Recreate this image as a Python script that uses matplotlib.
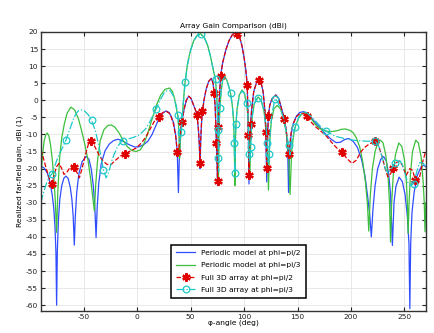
import numpy as np
import matplotlib
matplotlib.use("Agg")
import matplotlib.pyplot as plt

# (angle deg, gain dBi)
periodic_pi2 = [(-90,-19.3),(-87,-19.8),(-84,-21.3),(-81.5,-24),(-79.5,-27.5),(-78,-31.5),(-76.8,-37),(-75.9,-45),(-75.3,-60),(-74.6,-44),(-73.6,-35),(-72.3,-29),(-70.5,-25),(-68.5,-22.8),(-66.6,-22.2),(-64.5,-22.9),(-62.5,-25.5),(-61,-29),(-59.8,-34),(-58.75,-42.4),(-57.8,-34),(-56.5,-27),(-54.5,-21.5),(-51.5,-18),(-47.8,-16.4),(-45,-17.3),(-42.8,-20.3),(-41,-25),(-39.6,-31),(-38.4,-40.2),(-37.3,-31),(-35.8,-24),(-33.5,-18.5),(-30,-14.8),(-26,-12.8),(-22,-11.8),(-18,-11.4),(-14,-11.8),(-10,-12.6),(-6,-13.2),(-2,-13.7),(2,-13.6),(6,-13),(10,-12),(14,-10),(17,-7.8),(20,-5.7),(23,-4),(27,-3.1),(30,-3.6),(32,-4.8),(34,-6.5),(36,-10),(37.5,-15),(38.6,-27),(39.6,-15),(41,-8.5),(42,-6),(44,-2.5),(46,0),(48.2,1.2),(50.5,0.5),(52.5,-1.2),(54.5,-2.8),(56,-4.5),(57.3,-8.5),(58.2,-13.5),(58.8,-20),(59.5,-11.5),(60.3,-6.2),(61,-3.6),(62.5,0),(64.5,3.2),(67,5.6),(69.5,6.4),(71,5),(72,2.2),(73,-2),(74.2,-12.6),(75.2,-25),(75.8,-8),(76.5,-2),(78,7),(80,11),(83,14.8),(86,17.5),(89,19.2),(92,19.9),(94,19.4),(96,18.3),(98,16),(100,12.5),(101.5,9.2),(103,4.5),(104,-10.2),(104.6,-24.5),(105.3,-12),(106.2,-6.5),(107,-3),(109,2.5),(112,5.6),(114,6),(116,5),(117.8,2.5),(119.5,-3),(120.3,-9),(121.2,-23.9),(121.9,-12),(122.7,-4.5),(124,-1.5),(126,0.4),(129.7,1.6),(132.5,0.5),(135,-2.3),(137.8,-5.5),(139.5,-9),(140.8,-15),(141.6,-27),(142.5,-15.5),(144,-10),(146,-6.8),(149,-4.6),(152,-3.6),(155.6,-3.3),(159,-3.8),(162,-4.8),(166,-6.3),(171,-8),(176,-9.8),(181,-11.3),(186,-12.4),(190,-12.3),(194,-11.5),(198,-11.2),(202,-12),(206,-13.8),(210,-17.5),(213,-22),(215.5,-28),(217.5,-33.5),(219,-40),(220.5,-32),(222.5,-25),(225,-20),(228,-17.2),(230.5,-16.5),(233,-17.8),(235.2,-21.5),(237,-27.5),(238.7,-42.5),(240.2,-30),(242,-25.2),(245,-22.5),(248,-23.8),(250.5,-27.5),(252.7,-34),(254.2,-42),(255,-61),(255.8,-42),(257,-33),(259,-27),(262,-22),(265.5,-19.5),(268,-19),(270,-19.5)]

periodic_pi3 = [(-90,-22.7),(-88.5,-16),(-87,-12),(-85.5,-10.1),(-84,-9.6),(-82.5,-10.5),(-81,-13),(-79.5,-17),(-78,-22),(-76.7,-28.5),(-75.3,-38.7),(-74.2,-27),(-72.5,-17),(-70.5,-11),(-68,-6.8),(-65.5,-3.8),(-62,-2),(-58.5,-2.8),(-55,-5.3),(-52,-8.8),(-49,-12.8),(-46,-17.5),(-43.5,-23),(-41.5,-28.5),(-40,-32.4),(-38.8,-25),(-37,-17.5),(-34.5,-11.8),(-31,-8.6),(-27.5,-7.4),(-24.4,-7.2),(-21,-7.8),(-17,-9.5),(-13,-11.8),(-9,-13.6),(-5,-14.7),(-1,-15),(3,-14.5),(6,-13),(9,-10.5),(12,-7.5),(15,-4.5),(18,-1.5),(22,1.5),(26,3.2),(30.4,3.6),(33,2.6),(35,0.5),(36.8,-2.5),(38.2,-5),(39,-9),(39.7,-17),(40.4,-12),(41.3,-8.5),(43,-1.5),(44.5,4.5),(47,10.5),(50,14.8),(53,17.5),(56,19),(59.5,19.5),(63,18.3),(66,16),(68.5,13),(70.5,10),(72,7.8),(73.3,5.8),(74.5,1),(75.3,-6),(76,-24.7),(76.6,-8),(77.3,-2.6),(78.5,2.5),(80,6),(82,7),(84,5.8),(86,3.8),(87.5,1.8),(89,-1.5),(90.2,-6),(90.8,-12),(91.4,-25),(92,-11),(92.4,-7),(93.5,-2.5),(95.5,1.5),(98,3),(100.5,2),(102.4,-1),(103.6,-4.5),(104.6,-10.5),(105.4,-23),(106.2,-11.5),(107.5,-5),(109.5,-1),(113,1),(116,0),(118.5,-3),(120.5,-7.5),(121.8,-13),(122.8,-26.3),(123.8,-13),(125.5,-6),(128,-2.4),(131,-1.5),(134,-2.5),(137,-5.3),(139.5,-9.5),(141.5,-15.5),(143,-27.6),(144.5,-15),(146.5,-9.8),(148,-7.6),(151,-5.2),(154,-4),(157,-3.7),(160,-4.3),(163,-5.5),(167,-7.2),(171,-8.3),(176,-9),(181,-9.2),(187,-8.9),(191,-8.5),(194.7,-8.4),(199,-8.8),(202,-9.5),(205,-11),(208,-13.5),(211,-18),(213.5,-24),(215.3,-30),(216.6,-38.3),(218,-28),(220,-20),(222.5,-15),(225,-12.5),(227.5,-11.7),(230,-12.5),(232.5,-16),(234.8,-23),(236,-30),(237,-41.5),(238,-30),(239.5,-22),(241.5,-16),(244.7,-12.5),(247.5,-13.5),(250,-17.5),(251.8,-24),(252.8,-31),(253.4,-39),(254.3,-30),(255.5,-22),(257.5,-15),(260.5,-11.7),(263,-12.5),(265.5,-16.5),(267.5,-24),(268.5,-30),(269.2,-38.5),(270,-30)]

full_pi2 = [(-90,-14.5),(-88,-16.5),(-85,-20),(-82,-23),(-80,-24.4),(-78,-22.5),(-75.5,-19.5),(-73,-18.5),(-70.5,-20),(-68.4,-21.7),(-66,-21.2),(-63,-19.8),(-59,-19.4),(-56.5,-21),(-54,-22.7),(-51.5,-20),(-48,-15.5),(-45.5,-12.8),(-43.1,-12),(-40,-13.3),(-36,-15.8),(-32,-17.8),(-28,-18.8),(-24.4,-18.8),(-20,-17.5),(-15,-16.2),(-11,-15.6),(-6,-14.8),(-1,-14),(4,-12.5),(8.4,-10.6),(12,-8.5),(16,-6.2),(20,-4.8),(24,-3.6),(27,-3.2),(30,-3.8),(32,-5),(34,-7),(36,-10.5),(37.6,-15.1),(38.6,-16),(39.6,-12),(41,-8),(41.9,-6.3),(44,-2.5),(46,0),(48.2,1.2),(50.5,0.5),(52.5,-1.2),(54.5,-2.8),(56,-4.3),(57.3,-8.5),(58.2,-13),(58.7,-18.5),(59.5,-11),(60.3,-6),(61,-3.2),(62.5,0),(64.5,3.2),(67,5.6),(69.5,6.4),(71,5),(72,2),(73,-2),(74.2,-12.6),(75.2,-23.5),(75.8,-7.8),(76.5,-2),(78,7.1),(80,11),(83,14.8),(86,17.5),(89,19.2),(92,19.9),(93.5,19.3),(96,18.3),(98,16),(100,12.5),(101.5,9.2),(103,4.5),(104,-10.2),(104.6,-21.9),(105.3,-12),(106.2,-6.8),(107,-3),(109,2.5),(112,5.5),(114,5.8),(116,5),(117.8,2.5),(119.5,-3),(120.3,-9.2),(121.2,-19.8),(121.9,-12),(122.7,-4.5),(124,-1.5),(126,0.3),(129.7,1.5),(132.5,0.3),(135,-2.5),(137.8,-5.6),(139.5,-9),(141,-13.5),(142,-15.6),(142.8,-13),(144,-9.5),(146,-6.8),(149,-4.8),(152,-4),(155.5,-3.8),(158.8,-4.7),(163,-6.5),(167,-7.8),(171,-8.8),(177,-10.5),(183.75,-13),(187.5,-14.2),(191.5,-15.2),(196,-17),(201,-18.5),(205,-17.5),(208.5,-15.5),(212,-14),(217,-12.8),(222.8,-12),(226,-13.5),(229,-16.4),(231.5,-19.5),(234.4,-22.4),(237,-21.5),(239.5,-19.8),(242,-18.3),(245,-17.8),(248,-19),(251.5,-22),(255,-20),(257.5,-20.5),(260.3,-23.4),(262.5,-24.5),(264.5,-22),(267,-18),(270,-14.8)]

full_pi3 = [(-90,-30),(-88,-27.5),(-85,-24.5),(-82,-22.3),(-79.7,-21.6),(-77,-19.2),(-74,-16.6),(-70,-14),(-66.6,-11.7),(-63,-8.5),(-59,-5),(-55.5,-3.2),(-52.5,-2.8),(-49,-3.2),(-45.5,-4.3),(-42.5,-5.9),(-39,-9),(-36,-13),(-33.5,-17),(-31.6,-20.3),(-29,-22.7),(-26.5,-21),(-23,-17),(-19,-14),(-15.5,-12.3),(-13.4,-11.8),(-8,-11.3),(-3,-10.8),(1,-10.3),(5,-9.3),(8.4,-8.2),(12,-6.2),(15,-4.3),(17.8,-2.6),(21,-0.2),(25,2),(28,2.8),(31,2.8),(34,1.2),(36.5,-1.5),(38.2,-4.3),(39.7,-12.5),(41.3,-9.4),(43,-1.5),(45,5.4),(47,10.3),(50,14.6),(53,17.3),(56,18.9),(59.5,19.3),(63,18.2),(66,16),(68.5,13),(70.5,10),(72,7.8),(73.3,6.1),(74.5,1.5),(75.3,-5),(75.5,-8.7),(75.9,-17),(76.2,-21),(76.7,-8),(77.3,-2.4),(78.5,2.5),(80,6),(82,6.8),(84,5.6),(86,3.7),(87.4,2),(89,-1.5),(90.2,-6),(90.8,-12.6),(91.4,-21.4),(92,-10),(92.4,-6.8),(93.5,-2.5),(95.5,1.3),(98,2.8),(100.5,1.8),(102.4,-0.9),(103.6,-4.5),(104.6,-15.6),(105.4,-18),(106.2,-13.6),(107.5,-5),(109.5,-1),(112.8,0.7),(116,0),(118.5,-3),(120.5,-7.5),(121.8,-12.6),(122.8,-19),(123.6,-15.6),(124.5,-9),(126,-4),(129,0.5),(131.5,-0.5),(134,-2.5),(137,-5.3),(139.5,-9.3),(141.6,-13.1),(143,-16),(144.5,-12),(147.8,-7.8),(151,-5),(154,-3.7),(157,-3.3),(160,-4),(165,-5.5),(171,-7.5),(176.9,-9.1),(185,-10.5),(195,-11.3),(205,-11.8),(215,-12),(222.8,-12),(226,-13.5),(229,-16.5),(232,-20),(234.5,-21.3),(237,-20.5),(239.5,-19),(241.6,-18.3),(244.7,-17.3),(247.5,-18.5),(250.5,-21.5),(253,-24),(255.6,-25),(258.5,-24.4),(261,-21.5),(264,-18.3),(267,-18.3),(270,-19.5)]

# angles where the markers sit
full_pi2_marks = [-80,-59,-43.1,-11,20,37.6,41.9,56,58.7,61,72,74.2,75.2,75.8,78,93.5,103,104,104.6,106.2,114,120.3,121.2,122.7,137.8,142,158.8,191.5,222.8,239.5,260.3]
full_pi3_marks = [-79.7,-66.6,-42.5,-31.6,-13.4,17.8,38.2,41.3,45,59.5,73.3,75.5,75.9,77.3,87.4,90.8,91.4,92.4,102.4,104.6,106.2,112.8,121.8,123.6,129,141.6,147.8,176.9,222.8,241.6,258.5]

labels = ["Periodic model at phi=pi/2", "Periodic model at phi=pi/3",
          "Full 3D array at phi=pi/2", "Full 3D array at phi=pi/3"]


def split(pairs):
    a = np.array(pairs)
    return a[:, 0], a[:, 1]


def mark_idx(ang, marks):
    return [int(np.abs(ang - m).argmin()) for m in marks]


plt.rcParams['font.family'] = 'DejaVu Sans'
plt.rcParams['font.size'] = 5.4
plt.rcParams['axes.unicode_minus'] = False

fig = plt.figure(figsize=(4.35, 3.33), dpi=100)
ax = fig.add_axes([0.094, 0.066, 0.885, 0.838])

x, y = split(periodic_pi2)
ax.plot(x, y, color='#2f4dff', lw=0.9, label=labels[0])
x, y = split(periodic_pi3)
ax.plot(x, y, color='#3cbf3c', lw=0.9, label=labels[1])
x, y = split(full_pi2)
ax.plot(x, y, color='#e00000', lw=0.9, ls='--', marker=(6, 2, 0), ms=6,
        mew=1.6, markevery=mark_idx(x, full_pi2_marks), label=labels[2])
x, y = split(full_pi3)
ax.plot(x, y, color='#1ec8c8', lw=0.9, ls='-.', marker='o', ms=4.8,
        mfc='none', mew=0.9, markevery=mark_idx(x, full_pi3_marks), label=labels[3])

ax.set_xlim(-90, 270)
ax.set_ylim(-61.7, 20)
ax.set_xticks(np.arange(-50, 251, 50))
ax.set_yticks(np.arange(-60, 21, 5))
ax.grid(True, color='#e4e4e4', lw=0.6)
ax.set_axisbelow(True)
ax.tick_params(direction='in', length=3, width=0.8, top=True, right=True, pad=2,
               labelsize=5.4, colors='#222222')
for s in ax.spines.values():
    s.set_color('#333333')
    s.set_linewidth(1.0)

ax.set_title("Array Gain Comparison (dBi)", fontsize=5.4, pad=3)
ax.set_xlabel("φ-angle (deg)", fontsize=5.4, labelpad=0)
ax.set_ylabel("Realized far-field gain, dBi (1)", fontsize=5.4, labelpad=2)

leg = ax.legend(loc='lower left', bbox_to_anchor=(0.327, 0.033), fancybox=False,
                framealpha=1, edgecolor='black', fontsize=5.4, handlelength=2.6,
                borderpad=0.7, labelspacing=0.8)
leg.get_frame().set_linewidth(1.1)

fig.savefig("out.png", dpi=100)
